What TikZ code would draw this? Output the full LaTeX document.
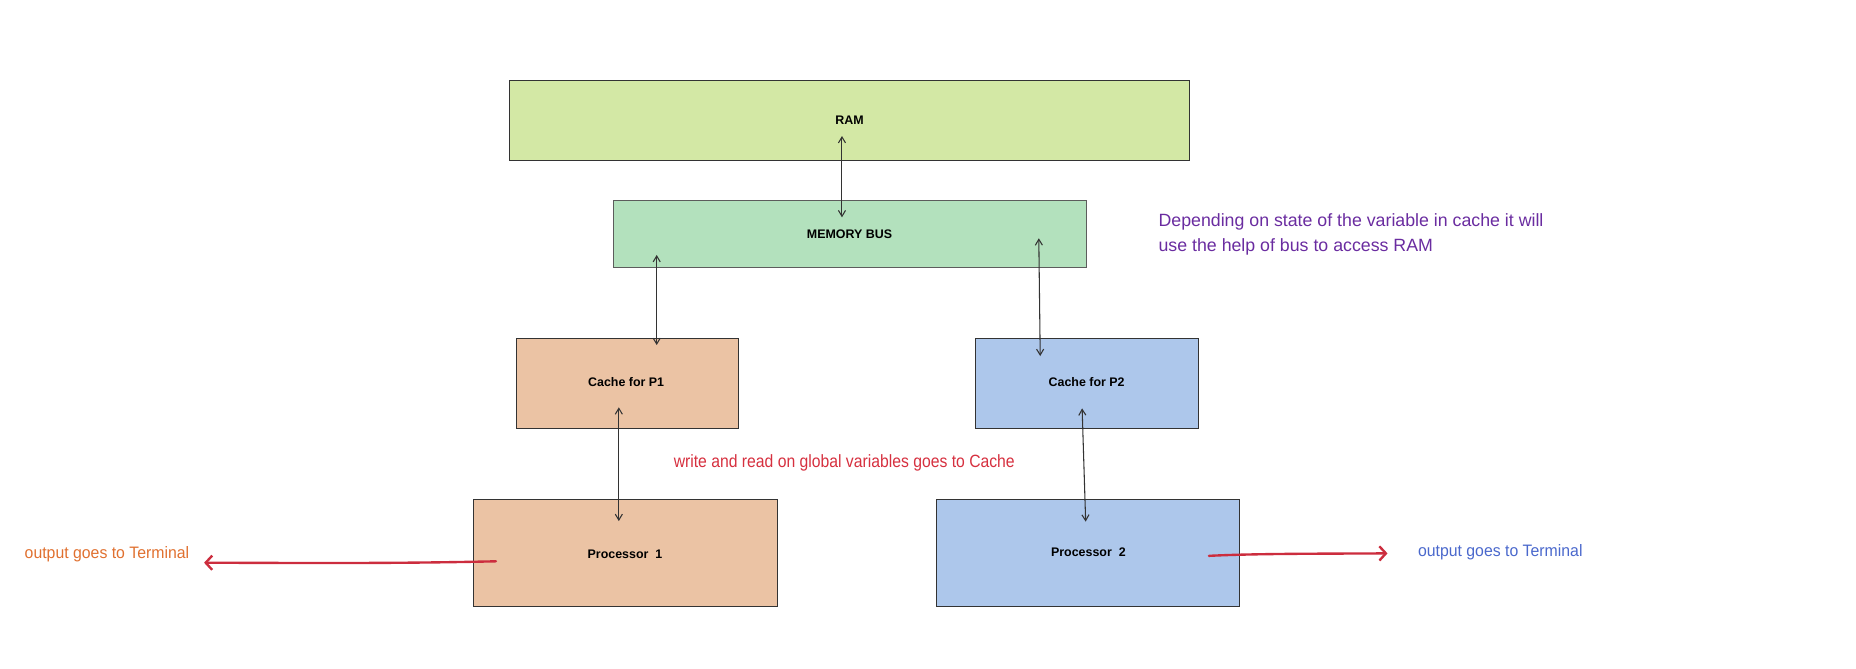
\documentclass[tikz,border=0pt]{standalone}
\usepackage{fontspec}
\usepackage{graphicx}
\setmainfont{Liberation Sans}
\usetikzlibrary{arrows.meta}
\definecolor{ramfill}{HTML}{D3E8A5}
\definecolor{busfill}{HTML}{B3E1BD}
\definecolor{pafill}{HTML}{EBC3A4}
\definecolor{pbfill}{HTML}{ADC7EB}
\definecolor{redtxt}{HTML}{D6303F}
\definecolor{redarr}{HTML}{CC2D3E}
\definecolor{orangetxt}{HTML}{E0702F}
\definecolor{bluetxt}{HTML}{4A68CC}
\definecolor{purpletxt}{HTML}{6A2CA0}
\definecolor{edge}{HTML}{333333}
\tikzset{
  box/.style={draw=edge, line width=0.9pt, inner sep=0pt, outer sep=0pt},
  lbl/.style={font=\fontsize{10.5}{12}\selectfont\bfseries, text=black, inner sep=0pt},
  note/.style={font=\fontsize{15}{21}\selectfont, inner sep=0pt, anchor=west, align=left},
  bidir/.style={draw=edge, line width=0.9pt, {Straight Barb[length=5pt,width=6pt]}-{Straight Barb[length=5pt,width=6pt]}},
  outarr/.style={draw=redarr, line width=2pt, line cap=round, -{Straight Barb[length=5.5pt,width=12pt,line width=2pt]}}
}
\begin{document}
\begin{tikzpicture}[x=1pt,y=-1pt]
\useasboundingbox (0,0) rectangle (1568,564.35);
% boxes
\node[box, fill=ramfill, minimum width=574.6pt, minimum height=67.6pt] (ram) at (717.7,101.7) {};
\node[box, fill=busfill, draw=edge!80, minimum width=399.8pt, minimum height=56.3pt] (bus) at (718.1,197.65) {};
\node[box, fill=pafill, minimum width=187.8pt, minimum height=76.6pt] (c1) at (529.9,324.1) {};
\node[box, fill=pbfill, minimum width=187.8pt, minimum height=76.6pt] (c2) at (918.4,324.1) {};
\node[box, fill=pafill, minimum width=256.9pt, minimum height=90.7pt] (p1) at (528.45,467.15) {};
\node[box, fill=pbfill, minimum width=255.8pt, minimum height=90.7pt] (p2) at (919.1,467.15) {};
% labels
\node[lbl] (tram) at (717.7,101.9) {RAM};
\node[lbl] (tbus) at (717.7,198) {MEMORY BUS};
\node[lbl] (tc1) at (529,323) {Cache for P1};
\node[lbl] (tc2) at (918,323) {Cache for P2};
\node[lbl] (tp1) at (528,468) {Processor\ \ 1};
\node[lbl] (tp2) at (919.5,466.9) {Processor\ \ 2};
% connector end points
\coordinate (a1) at (711.3,114.9);
\coordinate (a2) at (711.3,183.6);
\coordinate (b1) at (554.8,215.4);
\coordinate (b2) at (554.8,291.5);
\coordinate (d1) at (877.6,201.3);
\coordinate (d2) at (878.8,300.8);
\coordinate (e1) at (522.8,344.1);
\coordinate (e2) at (522.8,440.2);
\coordinate (f1) at (914.2,345);
\coordinate (f2) at (917.2,440.7);
\draw[bidir] (a1) -- (a2);
\draw[bidir] (b1) -- (b2);
\draw[bidir] (d1) -- (d2);
\draw[bidir] (e1) -- (e2);
\draw[bidir] (f1) -- (f2);
% output arrows
\coordinate (o1s) at (419,474.2);
\coordinate (o1e) at (172.4,475.4);
\coordinate (o2s) at (1021.3,469.6);
\coordinate (o2e) at (1172.2,467.5);
\draw[outarr] (o1s) .. controls (330,476.2) and (260,475.6) .. (o1e);
\draw[outarr] (o2s) .. controls (1060,467.6) and (1120,467.8) .. (o2e);
% notes
\node[note, text=purpletxt] (np) at (978.6,197.9) {Depending on state of the variable in cache it will\\use the help of bus to access RAM};
\node[note, text=redtxt] (nr) at (569,391.4) {\scalebox{0.886}[1]{write and read on global variables goes to Cache}};
\node[note, text=orangetxt, font=\fontsize{14}{16}\selectfont] (no) at (20.7,468) {\scalebox{0.955}[1]{output goes to Terminal}};
\node[note, text=bluetxt, font=\fontsize{14}{16}\selectfont] (nb) at (1197.8,466.9) {\scalebox{0.955}[1]{output goes to Terminal}};
\end{tikzpicture}
\end{document}
